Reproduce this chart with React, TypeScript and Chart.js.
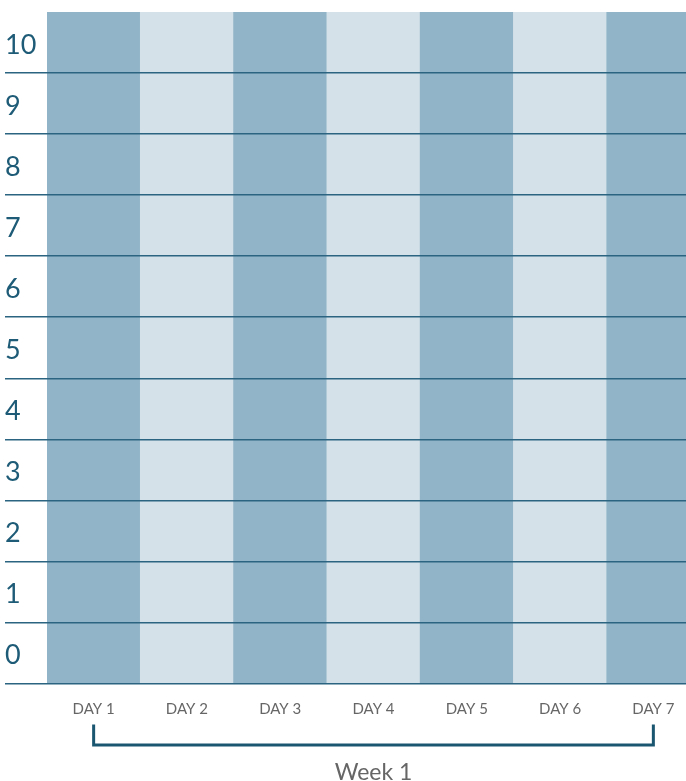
import React, { useEffect, useRef } from 'react';
import { Chart, registerables } from 'chart.js';

Chart.register(...registerables);

const days = ['DAY 1', 'DAY 2', 'DAY 3', 'DAY 4', 'DAY 5', 'DAY 6', 'DAY 7'];
const dayValues = [11, 11, 11, 11, 11, 11, 11];
const barColors = ['#91b4c8', '#d5e1e9', '#91b4c8', '#d5e1e9', '#91b4c8', '#d5e1e9', '#91b4c8'];
const yTickLabels = ['0', '1', '2', '3', '4', '5', '6', '7', '8', '9', '10'];
const weekLabel = 'Week 1';

const LINE = '#2a6480';
const BRACKET = '#1a5670';

const bracketPlugin = {
  id: 'weekBracket',
  afterDraw(chart: any) {
    const { ctx, chartArea } = chart;
    const x = chart.scales.x;
    const x0 = x.getPixelForValue(0);
    const x1 = x.getPixelForValue(days.length - 1);
    const top = chartArea.bottom + 41;
    const bottom = chartArea.bottom + 61.5;
    ctx.save();
    ctx.strokeStyle = BRACKET;
    ctx.lineWidth = 3;
    ctx.lineJoin = 'miter';
    ctx.beginPath();
    ctx.moveTo(x0, top);
    ctx.lineTo(x0, bottom);
    ctx.lineTo(x1, bottom);
    ctx.lineTo(x1, top);
    ctx.stroke();
    ctx.font = '400 23px Lato';
    ctx.fillStyle = '#666666';
    ctx.textAlign = 'center';
    ctx.textBaseline = 'alphabetic';
    ctx.fillText(weekLabel, (x0 + x1) / 2, chartArea.bottom + 96);
    ctx.restore();
  },
};

export default function App() {
  const ref = useRef<HTMLCanvasElement | null>(null);

  useEffect(() => {
    if (!ref.current) return;
    const chart = new Chart(ref.current, {
      type: 'bar',
      data: {
        labels: days,
        datasets: [
          {
            data: dayValues,
            backgroundColor: barColors,
            borderWidth: 0,
            barPercentage: 1,
            categoryPercentage: 1,
          },
        ],
      },
      options: {
        responsive: false,
        animation: false,
        devicePixelRatio: 1,
        layout: { padding: { left: 5, top: 12, right: 0, bottom: 0 } },
        plugins: { legend: { display: false }, tooltip: { enabled: false } },
        scales: {
          x: {
            grid: { display: false, drawTicks: false },
            border: { display: false },
            ticks: {
              color: '#666666',
              font: { family: 'Lato', size: 15 },
              padding: 17,
              maxRotation: 0,
              autoSkip: false,
            },
            afterFit: (s: any) => {
              s.height = 97.5;
              s.paddingLeft = 0;
              s.paddingRight = 0;
            },
          },
          y: {
            min: 0,
            max: 11,
            z: 1,
            border: { display: false },
            grid: {
              z: 1,
              color: (c: any) => (c.tick && c.tick.value === 11 ? 'rgba(0,0,0,0)' : LINE),
              tickColor: (c: any) => (c.tick && c.tick.value === 11 ? 'rgba(0,0,0,0)' : LINE),
              lineWidth: 1.5,
              tickLength: 42,
              drawTicks: true,
            },
            ticks: {
              z: 1,
              stepSize: 1,
              crossAlign: 'far',
              labelOffset: -28,
              padding: 0,
              color: '#1d5b76',
              font: { family: 'Lato', size: 27, weight: '400' },
              callback: (v: any) => (v < 11 ? yTickLabels[v] : ''),
            },
            afterFit: (s: any) => {
              s.width = 42;
              s.paddingTop = 0;
              s.paddingBottom = 0;
            },
          },
        },
      },
      plugins: [bracketPlugin],
    } as any);
    return () => chart.destroy();
  }, []);

  return (
    <div style={{ position: 'absolute', left: 0, top: 0, width: 686, height: 781, overflow: 'hidden' }}>
      <canvas ref={ref} width={700} height={781} style={{ display: 'block' }} />
    </div>
  );
}
